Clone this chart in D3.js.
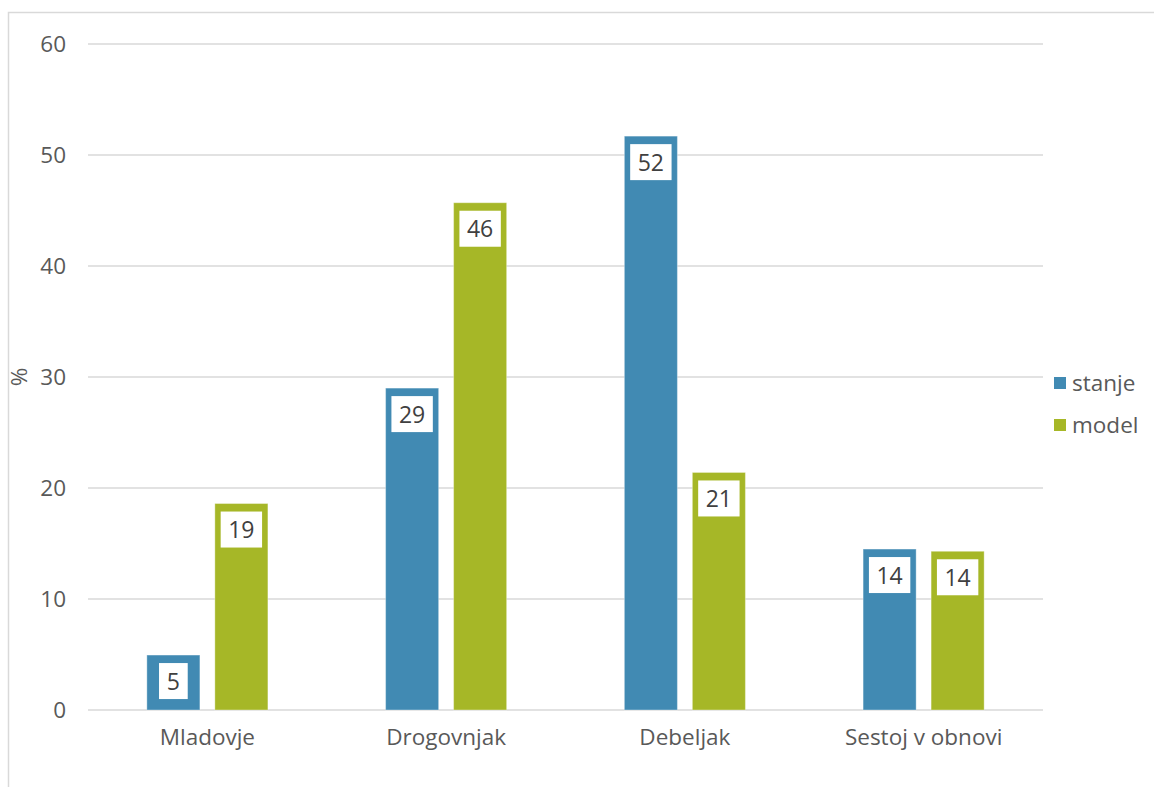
<!DOCTYPE html>
<html>
<head>
<meta charset="utf-8">
<script src="https://cdn.jsdelivr.net/npm/d3@7"></script>
<style>
  html, body { margin: 0; padding: 0; background: #fff; }
  svg { display: block; font-family: "Open Sans", sans-serif; }
</style>
</head>
<body>
<svg id="chart" width="1154" height="787"></svg>
<script>
const categories = ["Mladovje", "Drogovnjak", "Debeljak", "Sestoj v obnovi"];
const seriesNames = ["stanje", "model"];
const stanje = [4.95, 29.0, 51.7, 14.5];
const model = [18.6, 45.7, 21.4, 14.3];
const labelsStanje = ["5", "29", "52", "14"];
const labelsModel = ["19", "46", "21", "14"];
const yTicks = [0, 10, 20, 30, 40, 50, 60];
const colors = ["#418AB3", "#A6B727"];

(function () {
const svg = d3.select("#chart");
const pLeft = 88, pRight = 1043, pTop = 44, pBottom = 710;

// chart border
svg.append("rect").attr("x", 8.5).attr("y", 12.5).attr("width", 1200).attr("height", 900)
  .attr("fill", "none").attr("stroke", "#d9d9d9").attr("stroke-width", 1.5);

const y = d3.scaleLinear().domain([0, 60]).range([pBottom, pTop]);
const x0 = d3.scaleBand().domain(categories).range([pLeft, pRight])
  .paddingInner(0.493).paddingOuter(0.2465);
const x1 = d3.scaleBand().domain(seriesNames).range([0, x0.bandwidth()])
  .paddingInner(0.22).paddingOuter(0);

// gridlines
svg.append("g").selectAll("line").data(yTicks).join("line")
  .attr("x1", pLeft).attr("x2", pRight)
  .attr("y1", d => y(d)).attr("y2", d => y(d))
  .attr("stroke", "#d9d9d9").attr("stroke-width", 1.5);

// y axis labels
const yAxis = d3.axisLeft(y).tickValues(yTicks).tickSize(0).tickPadding(0);
const gy = svg.append("g").attr("transform", `translate(${pLeft - 22},0)`).call(yAxis);
gy.select(".domain").remove();
gy.selectAll("text").attr("font-size", 22.5).attr("fill", "#595959")
  .attr("font-family", "Open Sans, sans-serif");

// x axis labels
const xAxis = d3.axisBottom(x0).tickSize(0).tickPadding(0);
const gx = svg.append("g").attr("transform", `translate(0,${pBottom + 19})`).call(xAxis);
gx.select(".domain").remove();
gx.selectAll("text").attr("font-size", 22.5).attr("fill", "#595959")
  .attr("font-family", "Open Sans, sans-serif");

// y axis title
svg.append("text").attr("transform", `translate(27,${y(30)}) rotate(-90)`)
  .attr("text-anchor", "middle").attr("font-size", 22.5).attr("fill", "#595959").text("%");

const data = categories.map((c, i) => ({
  cat: c,
  vals: [
    { s: "stanje", v: stanje[i], l: labelsStanje[i], c: colors[0] },
    { s: "model", v: model[i], l: labelsModel[i], c: colors[1] }
  ]
}));

const groups = svg.append("g").selectAll("g").data(data).join("g")
  .attr("transform", d => `translate(${x0(d.cat)},0)`);

groups.selectAll("rect.bar").data(d => d.vals).join("rect").attr("class", "bar")
  .attr("x", d => x1(d.s)).attr("width", x1.bandwidth())
  .attr("y", d => y(d.v)).attr("height", d => y(0) - y(d.v))
  .attr("fill", d => d.c).attr("stroke", "#ffffff").attr("stroke-opacity", 0.35).attr("stroke-width", 1);

// data labels
const lbl = groups.selectAll("g.lbl").data(d => d.vals).join("g").attr("class", "lbl")
  .attr("transform", d => `translate(${x1(d.s) + x1.bandwidth() / 2},${y(d.v) + 8})`);
lbl.append("rect")
  .attr("x", d => -(d.l.length * 12.7 + 16) / 2)
  .attr("width", d => d.l.length * 12.7 + 16)
  .attr("y", 0).attr("height", 36).attr("fill", "#ffffff");
lbl.append("text").attr("x", 0).attr("y", 26.5).attr("text-anchor", "middle")
  .attr("font-size", 23).attr("fill", "#404040").text(d => d.l);

// legend
const leg = svg.append("g").selectAll("g").data(seriesNames).join("g")
  .attr("transform", (d, i) => `translate(1054,${377 + i * 42})`);
leg.append("rect").attr("width", 12).attr("height", 12).attr("fill", (d, i) => colors[i]);
leg.append("text").attr("x", 18).attr("y", 14).attr("font-size", 22.5).attr("fill", "#595959").text(d => d);
})();
</script>
</body>
</html>
